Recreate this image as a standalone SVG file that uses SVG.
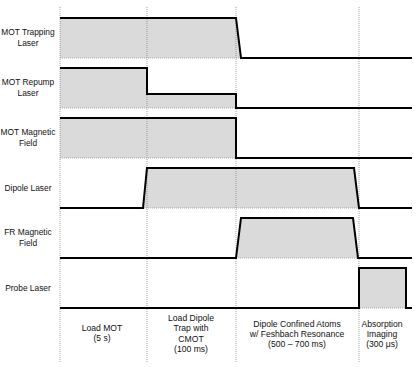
<svg xmlns="http://www.w3.org/2000/svg" width="420" height="367" viewBox="0 0 420 367">
<style>
.grid{stroke:#8a8a8a;stroke-width:0.8;stroke-dasharray:1 1;fill:none}
.base{stroke:#9a9a9a;stroke-width:0.8;stroke-dasharray:1 1;fill:none}
.fill{fill:#dadada;stroke:none}
.sig{fill:none;stroke:#000;stroke-width:2;stroke-linejoin:miter}
text{font-family:"Liberation Sans",Arial,Helvetica,sans-serif;font-size:8.4px;fill:#111;text-anchor:middle}
.ph{font-size:8.6px}
</style>
<rect width="420" height="367" fill="#fff"/>
<g id="fills">
<polygon class="fill" points="60,18 236,18 241,58 60,58"/>
<polygon class="fill" points="60,68 147,68 147,94 236,94 236,108 60,108"/>
<polygon class="fill" points="60,118 236,118 236,158 60,158"/>
<polygon class="fill" points="143,208 147,168 354,168 359,208"/>
<polygon class="fill" points="236,258 241,218 353,218 358,258"/>
<polygon class="fill" points="359,308 359,268 406,268 406,308"/>
</g>
<g id="gridlines">
<line class="grid" x1="60" y1="7" x2="60" y2="362"/>
<line class="grid" x1="147" y1="7" x2="147" y2="362"/>
<line class="grid" x1="236" y1="7" x2="236" y2="362"/>
<line class="grid" x1="359" y1="7" x2="359" y2="362"/>
<line class="base" x1="60" y1="58" x2="412" y2="58"/>
<line class="base" x1="60" y1="108" x2="412" y2="108"/>
<line class="base" x1="60" y1="158" x2="412" y2="158"/>
<line class="base" x1="60" y1="208" x2="412" y2="208"/>
<line class="base" x1="60" y1="258" x2="412" y2="258"/>
<line class="base" x1="60" y1="308" x2="412" y2="308"/>
</g>
<g id="connectors">
<polyline id="sig-mot-trap" class="sig" points="60,18 236,18 241,58 412,58"/>
<polyline id="sig-mot-repump" class="sig" points="60,68 147,68 147,94 236,94 236,108 412,108"/>
<polyline id="sig-mot-field" class="sig" points="60,118 236,118 236,158 412,158"/>
<polyline id="sig-dipole" class="sig" points="60,208 143,208 147,168 354,168 359,208 412,208"/>
<polyline id="sig-fr-field" class="sig" points="60,258 236,258 241,218 353,218 358,258 412,258"/>
<polyline id="sig-probe" class="sig" points="60,308 359,308 359,268 406,268 406,308 412,308"/>
</g>
<g id="label-mot-trapping"><text x="28" y="35">MOT Trapping</text><text x="28" y="46">Laser</text></g>
<g id="label-mot-repump"><text x="28" y="85">MOT Repump</text><text x="28" y="96">Laser</text></g>
<g id="label-mot-field"><text x="28" y="135">MOT Magnetic</text><text x="28" y="146">Field</text></g>
<g id="label-dipole"><text x="28" y="191">Dipole Laser</text></g>
<g id="label-fr-field"><text x="28" y="235">FR Magnetic</text><text x="28" y="246">Field</text></g>
<g id="label-probe"><text x="28" y="291">Probe Laser</text></g>
<g id="phase-load-mot"><text class="ph" x="102" y="331">Load MOT</text><text class="ph" x="102" y="341">(5 s)</text></g>
<g id="phase-load-dipole"><text class="ph" x="191" y="321">Load Dipole</text><text class="ph" x="191" y="331">Trap with</text><text class="ph" x="191" y="341.5">CMOT</text><text class="ph" x="191" y="351.5">(100 ms)</text></g>
<g id="phase-confined"><text class="ph" x="297" y="327">Dipole Confined Atoms</text><text class="ph" x="297" y="337">w/ Feshbach Resonance</text><text class="ph" x="297" y="347">(500 – 700 ms)</text></g>
<g id="phase-imaging"><text class="ph" x="382" y="327">Absorption</text><text class="ph" x="382" y="337">Imaging</text><text class="ph" x="382" y="347">(300 μs)</text></g>
</svg>
